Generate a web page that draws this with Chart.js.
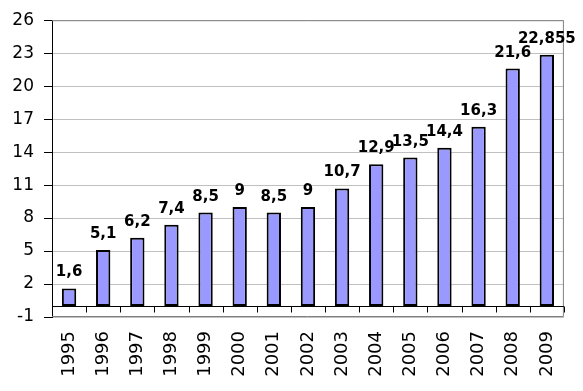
<!DOCTYPE html>
<html>
<head>
<meta charset="utf-8">
<script src="https://cdn.jsdelivr.net/npm/chart.js@4.4.1/dist/chart.umd.min.js"></script>
<style>
  html, body { margin: 0; padding: 0; background: #fff; }
  #wrap { width: 583px; height: 391px; position: relative; }
</style>
</head>
<body>
<div id="wrap"><canvas id="c"></canvas></div>
<script>
const years = ['1995','1996','1997','1998','1999','2000','2001','2002','2003','2004','2005','2006','2007','2008','2009'];
const values = [1.6, 5.1, 6.2, 7.4, 8.5, 9, 8.5, 9, 10.7, 12.9, 13.5, 14.4, 16.3, 21.6, 22.855];
const yTicks = [-1, 2, 5, 8, 11, 14, 17, 20, 23, 26];

const FONT = "'DejaVu Sans', Verdana, sans-serif";

const framePlugin = {
  id: 'frame',
  afterDatasetsDraw(chart) {
    const ctx = chart.ctx;
    const a = chart.chartArea;
    const y = chart.scales.y;
    const x = chart.scales.x;
    ctx.save();
    ctx.strokeStyle = '#808080';
    ctx.lineWidth = 1;
    ctx.beginPath();
    ctx.moveTo(a.left, a.top + 0.5);
    ctx.lineTo(a.right - 0.5, a.top + 0.5);
    ctx.lineTo(a.right - 0.5, a.bottom - 0.5);
    ctx.lineTo(a.left, a.bottom - 0.5);
    ctx.stroke();
    const y0 = Math.round(y.getPixelForValue(0)) + 0.5;
    ctx.strokeStyle = '#000';
    ctx.lineWidth = 1;
    ctx.beginPath();
    ctx.moveTo(a.left, y0);
    ctx.lineTo(a.right, y0);
    const n = years.length;
    for (let i = 0; i <= n; i++) {
      const px = Math.round(x.getPixelForValue(i - 0.5)) + 0.5;
      ctx.moveTo(px, y0);
      ctx.lineTo(px, y0 + 6);
    }
    ctx.stroke();
    const meta = chart.getDatasetMeta(0);
    ctx.fillStyle = '#000';
    ctx.font = "bold 15px " + FONT;
    ctx.textAlign = 'center';
    ctx.textBaseline = 'alphabetic';
    meta.data.forEach((bar, i) => {
      const txt = String(values[i]).replace('.', ',');
      ctx.fillText(txt, bar.x, bar.y - 12);
    });
    ctx.restore();
  }
};

new Chart(document.getElementById('c'), {
  type: 'bar',
  data: {
    labels: years,
    datasets: [{
      data: values,
      backgroundColor: '#9999FF',
      borderColor: '#000000',
      borderWidth: 2,
      borderSkipped: false,
      barPercentage: 0.42,
      categoryPercentage: 1.0
    }]
  },
  options: {
    responsive: true,
    maintainAspectRatio: false,
    animation: false,
    devicePixelRatio: 1,
    layout: { padding: { top: 17, right: 17, left: 0, bottom: 0 } },
    plugins: { legend: { display: false }, tooltip: { enabled: false } },
    scales: {
      x: {
        grid: { display: false, drawTicks: false },
        border: { display: false },
        ticks: {
          color: '#000',
          font: { family: FONT, size: 18 },
          minRotation: 90,
          maxRotation: 90,
          padding: 14
        },
        afterFit(s) { s.height = 74; }
      },
      y: {
        min: -1,
        max: 26,
        afterBuildTicks(s) { s.ticks = yTicks.map(v => ({ value: v })); },
        grid: { color: '#c0c0c0', tickColor: '#000', tickLength: 8, lineWidth: 1 },
        border: { color: '#000', width: 1 },
        ticks: {
          color: '#000',
          font: { family: FONT, size: 17 },
          padding: 10
        },
        afterFit(s) { s.width = 52; }
      }
    }
  },
  plugins: [framePlugin]
});
</script>
</body>
</html>
